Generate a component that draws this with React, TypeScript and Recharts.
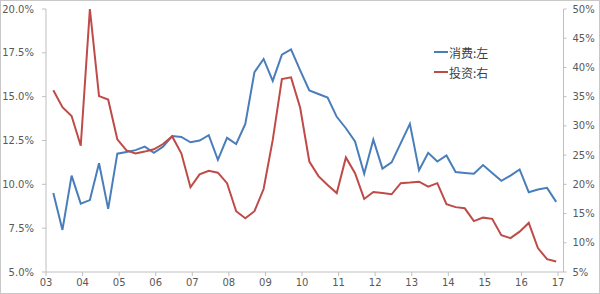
import React from "react";
import { LineChart, Line, XAxis, YAxis } from "recharts";

const quarters: string[] = [];
const years = [2003, 2004, 2005, 2006, 2007, 2008, 2009, 2010, 2011, 2012, 2013, 2014, 2015, 2016];
for (const y of years) for (const q of [1, 2, 3, 4]) quarters.push(`${y}Q${q}`);

const consumption = [
  9.5, 7.4, 10.5, 8.9, 9.1, 11.2, 8.6, 11.75,
  11.85, 11.95, 12.15, 11.8, 12.15, 12.75, 12.7, 12.4,
  12.5, 12.8, 11.4, 12.65, 12.3, 13.45, 16.4, 17.15,
  15.9, 17.4, 17.7, 16.5, 15.35, 15.15, 14.95, 13.85,
  13.2, 12.45, 10.6, 12.55, 10.9, 11.25, 12.35, 13.45,
  10.8, 11.8, 11.3, 11.65, 10.7, 10.65, 10.6, 11.1,
  10.65, 10.2, 10.5, 10.85, 9.55, 9.7, 9.8, 9.0,
];

const investment = [
  36.1, 33.2, 31.7, 26.6, 50.0, 35.1, 34.5, 27.7,
  25.8, 25.3, 25.6, 26.0, 26.9, 28.2, 25.3, 19.5,
  21.7, 22.3, 22.0, 20.2, 15.4, 14.2, 15.4, 19.2,
  27.6, 38.0, 38.3, 33.1, 23.9, 21.4, 19.9, 18.5,
  24.6, 21.9, 17.5, 18.7, 18.5, 18.3, 20.2, 20.3,
  20.45, 19.6, 20.2, 16.6, 16.1, 15.9, 13.7, 14.3,
  14.1, 11.3, 10.8, 11.9, 13.4, 9.1, 7.2, 6.8,
];

const xTicks = [2003, 2004, 2005, 2006, 2007, 2008, 2009, 2010, 2011, 2012, 2013, 2014, 2015, 2016, 2017];
const leftTicks = [5, 7.5, 10, 12.5, 15, 17.5, 20];
const rightTicks = [5, 10, 15, 20, 25, 30, 35, 40, 45, 50];

const seriesNames = ["消费:左", "投资:右"];
const colors = ["#4A7EBB", "#BE4B48"];

const data = quarters.map((qs, i) => {
  const y = parseInt(qs.slice(0, 4), 10);
  const q = parseInt(qs.slice(5), 10);
  return { t: y + (q - 0.2) / 4, c: consumption[i], inv: investment[i] };
});

const tickStyle = { fontFamily: "DejaVu Sans", fontSize: 10, fill: "#595959" };

export default function App() {
  return (
    <div
      style={{
        position: "absolute",
        left: 0,
        top: 0,
        width: 600,
        height: 294,
        background: "#fff",
        boxShadow: "inset 0 0 0 1px #c8c8c8",
      }}
    >
      <LineChart width={600} height={294} data={data} margin={{ top: 9, right: 0, bottom: 0, left: 0 }}>
        <XAxis
          dataKey="t"
          type="number"
          domain={[2003, 2017.15]}
          ticks={xTicks}
          tickFormatter={(v: number) => String(v).slice(2)}
          height={22}
          tick={tickStyle}
          tickSize={4}
          tickMargin={3}
          stroke="#bfbfbf"
          interval={0}
        />
        <YAxis
          yAxisId="left"
          domain={[5, 20]}
          ticks={leftTicks}
          tickFormatter={(v: number) => v.toFixed(1) + "%"}
          width={46}
          tick={tickStyle}
          tickSize={4}
          tickMargin={8}
          stroke="#bfbfbf"
          interval={0}
        />
        <YAxis
          yAxisId="right"
          orientation="right"
          domain={[5, 50]}
          ticks={rightTicks}
          tickFormatter={(v: number) => v + "%"}
          width={36.5}
          tick={tickStyle}
          tickSize={3}
          tickMargin={6}
          stroke="#bfbfbf"
          interval={0}
        />
        <Line
          yAxisId="left"
          dataKey="c"
          name={seriesNames[0]}
          stroke={colors[0]}
          strokeWidth={2}
          dot={false}
          type="linear"
          isAnimationActive={false}
        />
        <Line
          yAxisId="right"
          dataKey="inv"
          name={seriesNames[1]}
          stroke={colors[1]}
          strokeWidth={2}
          dot={false}
          type="linear"
          isAnimationActive={false}
        />
      </LineChart>
      <div
        style={{
          position: "absolute",
          left: 434,
          top: 42,
          fontFamily: "'Noto Sans CJK SC'",
          fontSize: 12,
          color: "#404040",
        }}
      >
        {seriesNames.map((n, i) => (
          <div key={n} style={{ display: "flex", alignItems: "center", height: 20 }}>
            <span style={{ display: "inline-block", width: 14, height: 2, background: colors[i], marginRight: 1 }} />
            <span>{n}</span>
          </div>
        ))}
      </div>
    </div>
  );
}
